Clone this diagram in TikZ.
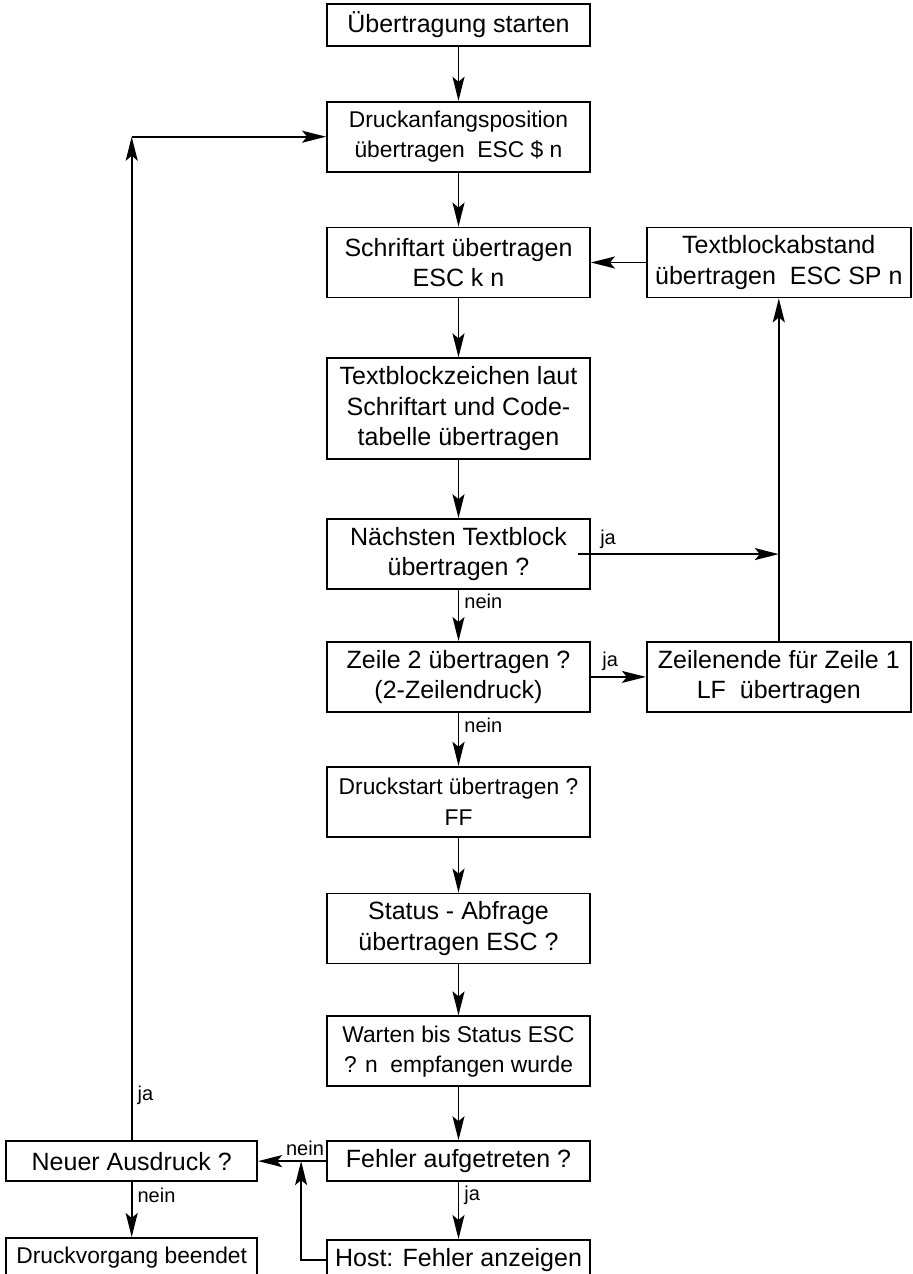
\documentclass[tikz,border=0pt]{standalone}
\usepackage{fontspec}
\setmainfont{Liberation Sans}
\usetikzlibrary{positioning}
\usetikzlibrary{arrows.meta}

\begin{document}
\begin{tikzpicture} [node distance = 27pt, line width = 0.9pt,
    main/.style = {draw, rectangle, minimum width=131.5pt, minimum height=20pt, align=center, inner sep=2pt, font=\fontsize{12.5}{15.2}\selectfont},
    narrow/.style = {font=\fontsize{11.4}{15.2}\selectfont},
    twoline/.style = {minimum height=35pt},
    tag/.style = {font=\fontsize{10}{12}\selectfont, inner sep=2.5pt},
    edge/.style = {-{Stealth[length=12pt, width=6pt, inset=2.5pt]}}]
    \useasboundingbox (0,0) rectangle (456.5pt,-637pt);
    \clip (0,0) rectangle (456.5pt,-637pt);
    % main column
    \node[main, minimum height=21pt, anchor=north] (start) at (229.25pt,-1.5pt) {Übertragung starten};
    \node[main, twoline, narrow, below=of start] (druck) {Druckanfangsposition\\übertragen~~ESC \$ n};
    \node[main, twoline, below=of druck] (schrift) {Schriftart übertragen\\ESC k n};
    \node[main, minimum height=50.5pt, below=29.5pt of schrift] (zeichen) {Textblockzeichen laut\\Schriftart und Code-\\tabelle übertragen};
    \node[main, twoline, below=29pt of zeichen] (next) {Nächsten Textblock\\übertragen ?};
    \node[main, twoline, below=25.5pt of next] (zeile) {Zeile 2 übertragen ?\\(2-Zeilendruck)};
    \node[main, twoline, narrow, below=26.5pt of zeile] (druckstart) {Druckstart übertragen ?\\FF};
    \node[main, twoline, below=27.5pt of druckstart] (status) {Status - Abfrage\\übertragen ESC ?};
    \node[main, twoline, narrow, below=25.5pt of status] (warten) {Warten bis Status ESC\\? n~~empfangen wurde};
    \node[main, below=26.5pt of warten] (fehler) {Fehler aufgetreten ?};
    \node[main, below=28.5pt of fehler] (host) {Host: Fehler anzeigen};
    % side boxes
    \node[main, twoline, minimum width=132pt, right=27.5pt of schrift] (abstand) {Textblockabstand\\übertragen~~ESC SP n};
    \node[main, twoline, minimum width=132pt, right=27.5pt of zeile] (zeilenende) {Zeilenende für Zeile 1\\LF~~übertragen};
    \node[main, minimum width=125.5pt, left=34pt of fehler] (neu) {Neuer Ausdruck ?};
    \node[main, narrow, minimum width=125.5pt, below=27.5pt of neu] (ende) {Druckvorgang beendet};
    % connectors
    \foreach \i/\j in {start/druck, druck/schrift, schrift/zeichen, zeichen/next, druckstart/status, status/warten, warten/fehler} {
        \draw[edge] (\i) -- (\j);
    }
    \draw[edge] (next) -- node[tag, right, pos=0.22] {nein} (zeile);
    \draw[edge] (zeile) -- node[tag, right, pos=0.24] {nein} (druckstart);
    \draw[edge] (fehler) -- node[tag, right, pos=0.23] {ja} (host);
    \draw[edge] (zeile) -- node[tag, above, pos=0.35] {ja} (zeilenende);
    \draw[edge] (zeilenende) -- (abstand);
    \draw[edge] (abstand) -- (schrift);
    \coordinate (join) at (next.east -| zeilenende.north);
    \draw[edge] ([xshift=-6.5pt]next.east) -- node[tag, above, pos=0.15] {ja} (join);
    \draw[edge] (fehler) -- node[tag, above, pos=0.31] {nein} (neu);
    \coordinate (merge) at ([xshift=-12.5pt]fehler.west);
    \draw[edge] (host.west) -| (merge);
    \coordinate (corner) at (neu.north |- druck.west);
    \draw[edge] (neu) -- node[tag, right, pos=0.045] {ja} (corner);
    \draw[edge] (corner) -- (druck);
    \draw[edge] (neu) -- node[tag, right, pos=0.25] {nein} (ende);
\end{tikzpicture}
\end{document}
